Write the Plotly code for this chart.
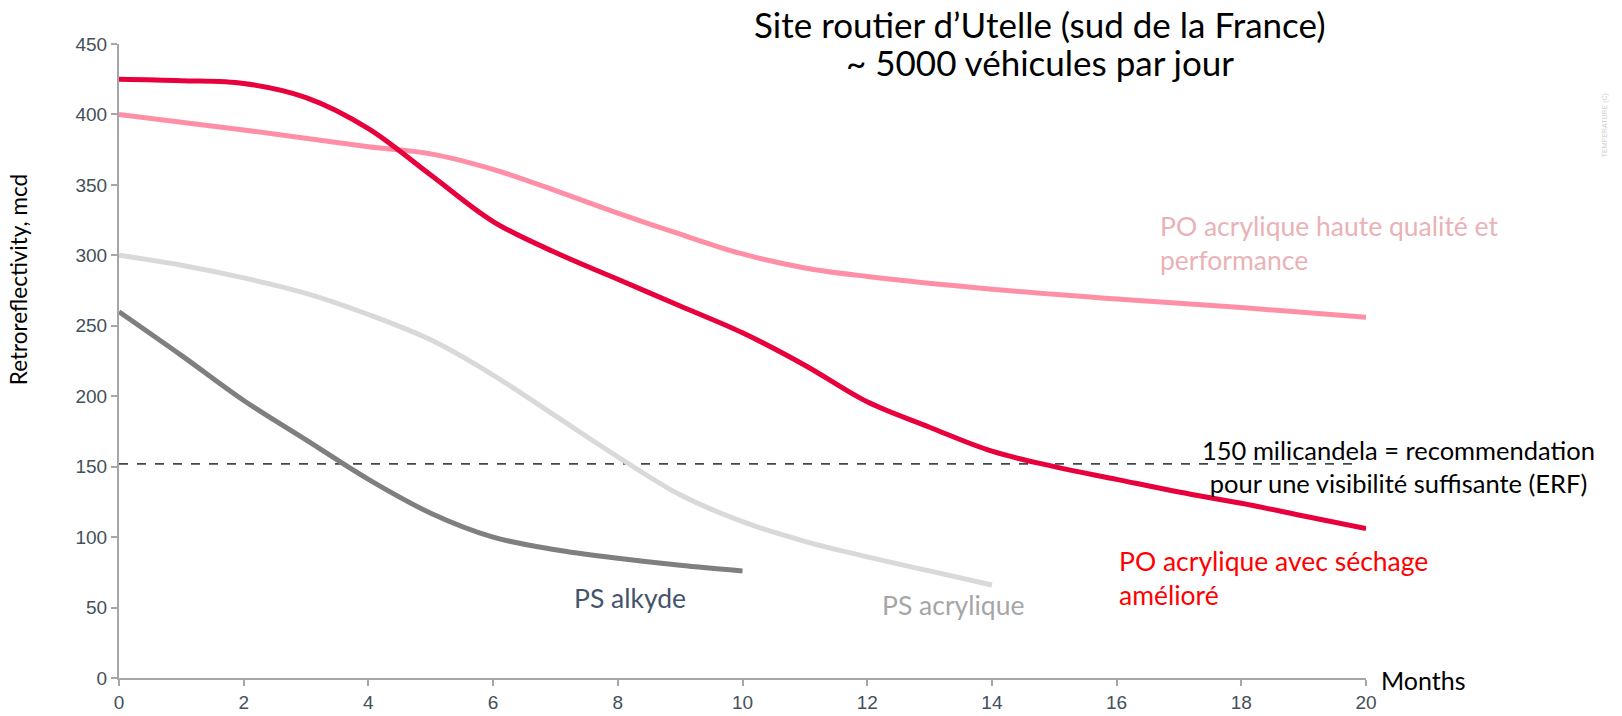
import plotly.graph_objects as go

months_red = [0, 1, 2, 3, 4, 5, 6, 7, 8, 9, 10, 11, 12, 13, 14, 15, 16, 17, 18, 19, 20]
po_seche = [425, 424, 422, 412, 390, 357, 324, 302, 283, 264, 245, 222, 196, 178, 161, 150, 141, 132, 124, 115, 106]

months_pink = [0, 2, 4, 5, 6, 7, 8, 9, 10, 11, 12, 14, 16, 18, 20]
po_haute = [400, 389, 377, 372, 361, 346, 330, 315, 301, 291, 285, 276, 269, 263, 256]

months_psa = [0, 1, 2, 3, 4, 5, 6, 7, 8, 9, 10, 11, 12, 13, 14]
ps_acrylique = [300, 293, 284, 273, 258, 240, 215, 186, 157, 130, 111, 97, 86, 76, 66]

months_alk = [0, 1, 2, 3, 4, 5, 6, 7, 8, 9, 10]
ps_alkyde = [260, 229, 197, 169, 141, 117, 100, 91, 85, 80, 76]

threshold = 152
x_ticks = list(range(0, 21, 2))
y_ticks = list(range(0, 451, 50))

TXT = "Lato"
fig = go.Figure()

fig.add_trace(go.Scatter(x=[0, 19.8], y=[threshold, threshold], mode="lines",
                         line=dict(color="#3b4a52", width=1.6, dash="dash"), hoverinfo="skip"))
fig.add_trace(go.Scatter(x=months_pink, y=po_haute, mode="lines", line_shape="spline",
                         line=dict(color="#ff8fa6", width=5)))
fig.add_trace(go.Scatter(x=months_psa, y=ps_acrylique, mode="lines", line_shape="spline",
                         line=dict(color="#d9d9d9", width=5)))
fig.add_trace(go.Scatter(x=months_alk, y=ps_alkyde, mode="lines", line_shape="spline",
                         line=dict(color="#7f7f7f", width=5)))
fig.add_trace(go.Scatter(x=months_red, y=po_seche, mode="lines", line_shape="spline",
                         line=dict(color="#e8003d", width=5)))

FS = 26.5
ann = [
    dict(xref="paper", yref="paper", x=0.7386, y=1.0315,
         text="Site routier d’Utelle (sud de la France)",
         font=dict(size=35, color="#000000", family=TXT), xanchor="center", yanchor="middle"),
    dict(xref="paper", yref="paper", x=0.7386, y=0.9716,
         text="~ 5000 véhicules par jour",
         font=dict(size=35, color="#000000", family=TXT), xanchor="center", yanchor="middle"),
    dict(xref="paper", yref="paper", x=1.026, y=0.333,
         text="150 milicandela = recommendation<br>pour une visibilité suffisante (ERF)",
         font=dict(size=25.5, color="#000000", family=TXT), xanchor="center", yanchor="middle"),
    dict(x=16.0, y=71, text="PO acrylique avec séchage<br>amélioré", align="left",
         font=dict(size=FS, color="#ff0000", family=TXT), xanchor="left", yanchor="middle"),
    dict(x=16.67, y=309, text="PO acrylique haute qualité et<br>performance", align="left",
         font=dict(size=FS, color="#eab2b6", family=TXT), xanchor="left", yanchor="middle"),
    dict(x=8.2, y=57, text="PS alkyde",
         font=dict(size=FS, color="#44546a", family=TXT), xanchor="center", yanchor="middle"),
    dict(x=13.37, y=52, text="PS acrylique",
         font=dict(size=FS, color="#a6a6a6", family=TXT), xanchor="center", yanchor="middle"),
    dict(xref="paper", yref="paper", x=1.0104, y=-0.003, text="Months",
         font=dict(size=25, color="#000000", family=TXT), xanchor="left", yanchor="middle"),
    dict(xref="paper", yref="paper", x=-0.081, y=0.629, text="Retroreflectivity, mcd", textangle=-90,
         font=dict(size=22.5, color="#000000", family=TXT), xanchor="center", yanchor="middle"),
    dict(xref="paper", yref="paper", x=1.0, xshift=239, y=0.872, text="TEMPERATURE (C)", textangle=-90,
         font=dict(size=7, color="#cfcfcf", family="Liberation Sans"), xanchor="center", yanchor="middle"),
]
for a in ann:
    a.setdefault("xref", "x")
    a.setdefault("yref", "y")
    a["showarrow"] = False

fig.update_layout(
    width=1622, height=716,
    margin=dict(l=119, r=256, t=44, b=38),
    paper_bgcolor="white", plot_bgcolor="white",
    showlegend=False,
    annotations=ann,
    xaxis=dict(range=[0, 20], tickmode="array", tickvals=x_ticks, showgrid=False, zeroline=False,
               automargin=False,
               showline=True, linecolor="#a6a6a6", linewidth=2, ticks="outside", ticklen=6,
               tickcolor="#a6a6a6", tickwidth=1.5,
               tickfont=dict(family="Liberation Sans", size=19, color="#44505a")),
    yaxis=dict(range=[0, 450], tickmode="array", tickvals=y_ticks, showgrid=False, zeroline=False,
               automargin=False,
               showline=True, linecolor="#a6a6a6", linewidth=2, ticks="outside", ticklen=6,
               tickcolor="#a6a6a6", tickwidth=1.5,
               tickfont=dict(family="Liberation Sans", size=19, color="#44505a")),
)

fig.write_html("out.html", config={"displayModeBar": False},
               post_script="document.body.style.margin='0';document.body.style.overflow='hidden';")
